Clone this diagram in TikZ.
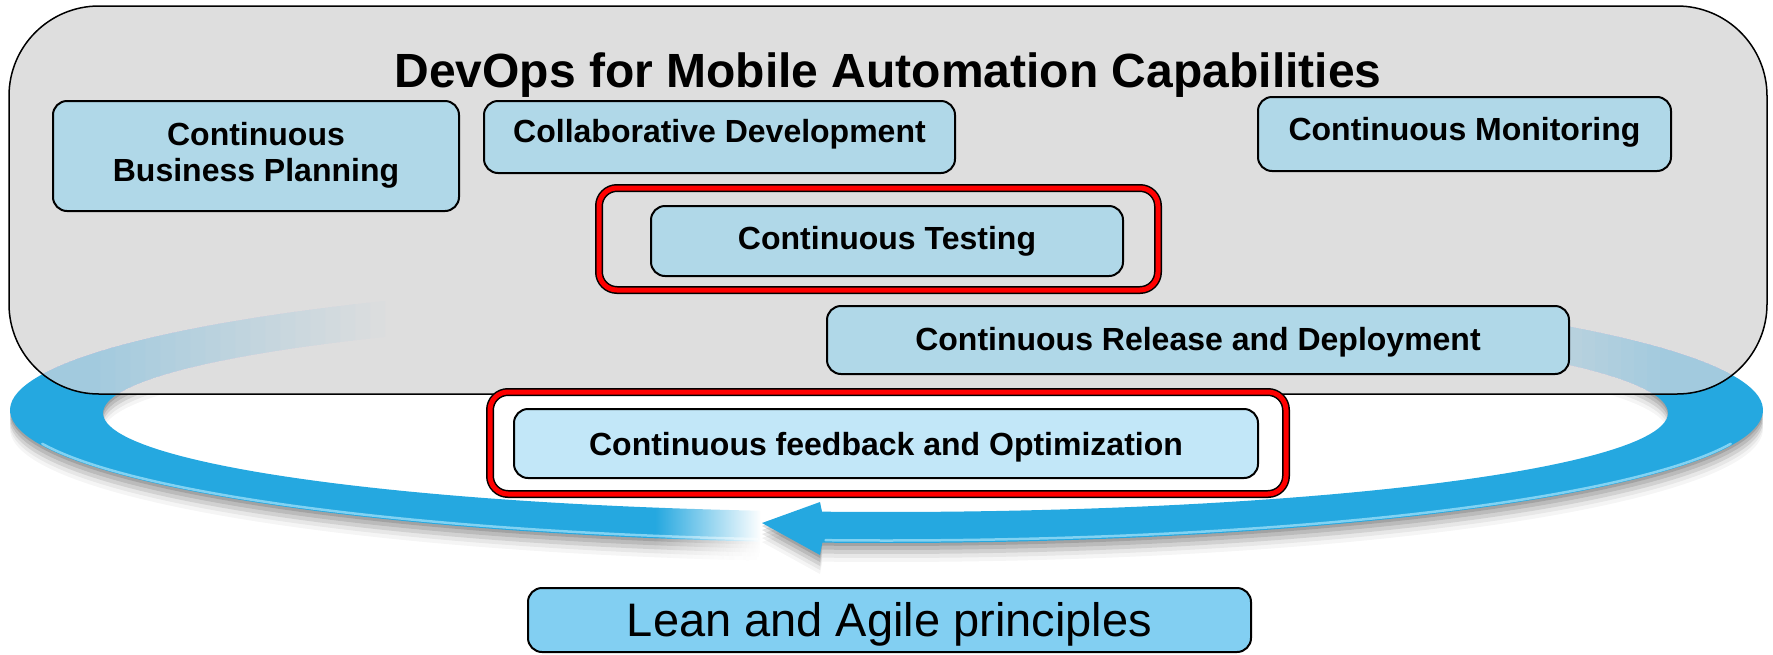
\documentclass[tikz,border=0pt]{standalone}
\usepackage{fontspec}
\setmainfont{Liberation Sans}
\usetikzlibrary{fadings}
\definecolor{ringblue}{RGB}{37,168,224}
\definecolor{ringlight}{RGB}{130,210,242}
\definecolor{boxgray}{RGB}{222,222,222}
\definecolor{boxblue}{RGB}{176,216,232}
\definecolor{feedblue}{RGB}{194,231,248}
\definecolor{leanblue}{RGB}{130,207,242}
\definecolor{hlred}{RGB}{255,0,0}
\tikzfading[name=tailfade, left color=transparent!100, right color=transparent!0]
\def\ringpath{(762,523) -- (820,502) -- (822,511.7)
  -- plot[domain=94.7:-260.8,samples=200] ({885.5+782.5*cos(\x)},{413+99*sin(\x)})
  -- plot[domain=-261.7:94.2,samples=200] ({886.5+876.5*cos(\x)},{410+133*sin(\x)})
  -- (820,555) -- cycle}
\begin{document}
\begin{tikzpicture}[x=1pt,y=-1pt,
  bx/.style={draw, line width=2pt, rounded corners=14pt, fill=boxblue, inner sep=0pt,
    font=\fontsize{32}{36}\selectfont\bfseries, text height=23pt},
  frame/.style={inner sep=0pt, outer sep=0pt}]
\useasboundingbox (0,0) rectangle (1773,654);
% ring shadow
\foreach \s/\o in {3/0.13,7/0.11,11/0.09,15/0.06,19/0.04}
  \fill[black, fill opacity=\o, yshift=-\s pt] \ringpath;
% ring
\fill[ringblue] \ringpath;
% light rim along the outer edge
\draw[ringlight, line width=2.5pt, line cap=round]
  plot[domain=15:94,samples=80] ({886.5+874*cos(\x)},{410+130.5*sin(\x)});
\draw[ringlight, line width=2.5pt, line cap=round]
  plot[domain=98.5:165,samples=80] ({886.5+874*cos(\x)},{410+130.5*sin(\x)});
% tail fade
\fill[white, path fading=tailfade] (655,495) rectangle (761,575);
% big gray box
\node[frame, fill=boxgray, rounded corners=90pt, minimum width=1758pt, minimum height=388pt] (main) at (888,200) {};
\begin{scope}
  \clip[rounded corners=90pt] (main.south west) rectangle (main.north east);
  \foreach \i in {0,...,19} {
    \begin{scope}
      \clip (0,0) rectangle ({100+\i*15},400) ({1660-\i*13},0) rectangle (1773,400);
      \fill[ringblue, fill opacity=0.015] \ringpath;
    \end{scope}
  }
\end{scope}
\draw[line width=1.5pt, rounded corners=90pt] (main.south west) rectangle (main.north east);
% title
\node[inner sep=0pt, font=\fontsize{48}{52}\selectfont\bfseries, text height=34.4pt, text depth=0pt] (title) at (888,70) {DevOps for Mobile Automation Capabilities};
% boxes
\node[bx, minimum width=406pt, minimum height=110pt, align=center, text height=59pt, text depth=9pt] (cbp) at (256,156) {Continuous\\Business Planning};
\node[bx, minimum width=471pt, minimum height=72pt, text depth=12pt] (collab) at (719.5,137) {Collaborative Development};
\node[bx, minimum width=413pt, minimum height=74pt, text depth=10pt] (monitor) at (1464.5,134) {Continuous Monitoring};
% testing highlight
\node[frame, minimum width=559pt, minimum height=102pt] (testred) at (878.5,239) {};
\draw[line width=8pt, rounded corners=18pt, yshift=-5pt] (testred.south west) rectangle (testred.north east);
\draw[hlred, line width=5pt, rounded corners=18pt] (testred.south west) rectangle (testred.north east);
\node[bx, minimum width=472pt, minimum height=70pt, text depth=7pt] (testing) at (887,241) {Continuous Testing};
\node[bx, minimum width=742pt, minimum height=68pt, text depth=2pt] (release) at (1198,340) {Continuous Release and Deployment};
% feedback highlight
\node[frame, minimum width=796pt, minimum height=102pt] (feedred) at (888,443) {};
\fill[white, rounded corners=18pt] (feedred.south west) rectangle (feedred.north east);
\draw[line width=8pt, rounded corners=18pt, yshift=-5pt] (feedred.south west) rectangle (feedred.north east);
\draw[hlred, line width=5pt, rounded corners=18pt] (feedred.south west) rectangle (feedred.north east);
\node[bx, fill=feedblue, minimum width=744pt, minimum height=69pt, text depth=0pt] (feedback) at (886,443.5) {Continuous feedback and Optimization};
% lean
\node[bx, fill=leanblue, font=\fontsize{47}{52}\selectfont, text height=33.6pt, text depth=0pt, minimum width=723pt, minimum height=64pt] (lean) at (889.5,620) {Lean and Agile principles};
\end{tikzpicture}
\end{document}
